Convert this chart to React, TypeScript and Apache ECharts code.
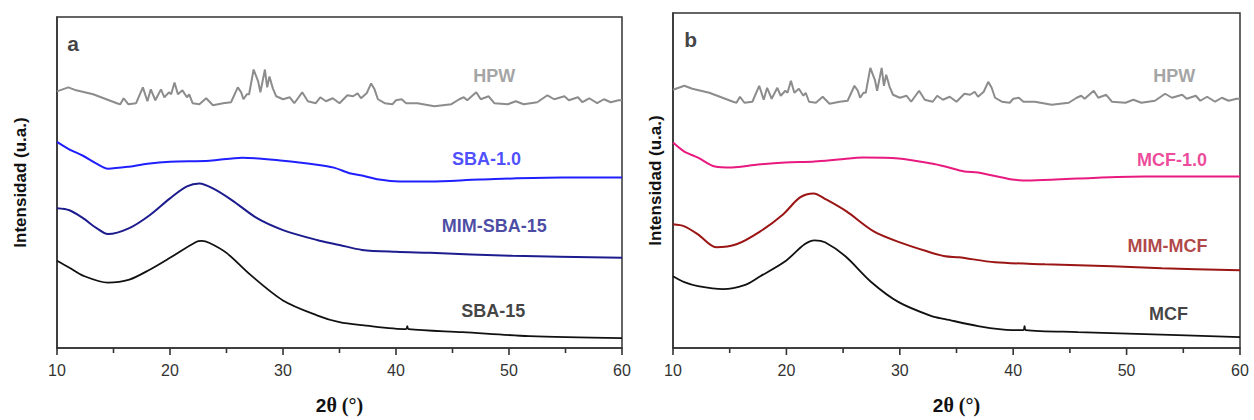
import React, { useEffect, useRef } from "react";
import * as echarts from "echarts";

// 2θ (°) vs intensity (a.u.)
const xTicks = [10, 20, 30, 40, 50, 60];
const xMinorTicks = [15, 25, 35, 45, 55];

const hpw: number[][] = [[10,259],[11,263],[11.7,260],[13.2,256],[15.3,247],[15.6,246],[15.9,252],[16.3,246],[17,247],[17.6,263],[18,249],[18.3,261],[18.7,250],[19.2,261],[19.5,253],[19.9,258],[20.1,256],[20.4,268],[20.7,256],[21.1,260],[21.5,253],[21.7,256],[22,247],[22.6,246],[23.2,252],[23.8,245],[24.7,247],[25.4,248],[26,263],[26.3,258],[26.5,251],[26.8,256],[27,256],[27.4,281],[27.8,269],[28,258],[28.4,281],[28.6,263],[28.8,274],[29.1,262],[29.4,254],[30,251],[30.6,253],[31,247],[31.7,258],[32.2,249],[32.9,247],[33.3,253],[33.8,249],[34.4,252],[35,247],[35.7,255],[36.2,254],[36.6,257],[36.9,252],[37.4,257],[37.8,267],[38.1,261],[38.4,251],[39,247],[39.7,246],[40,250],[40.5,251],[40.9,247],[41.9,247],[43.4,244],[44.9,246],[45.6,251],[46,253],[46.3,250],[47.1,258],[47.5,251],[48.2,254],[48.7,247],[49.9,246],[50.6,249],[51.3,246],[52.5,248],[53.4,255],[54,251],[54.9,254],[55.3,250],[56.1,253],[56.5,248],[57.1,252],[57.8,247],[58.4,251],[59,248],[59.7,250],[60,250]];

const sba10: number[][] = [[10,208],[11,201],[12.3,194],[13.5,186],[14.5,181],[16.4,183],[18,186],[20,188],[23.5,189],[26.4,192],[30,189],[33,185],[34.5,182],[36,176],[37,174],[38.5,170],[40.3,168],[43,168],[47.4,170],[54.7,172],[60,172]];

const mimSba15: number[][] = [[10,141],[11.1,139],[12.3,131],[13.5,121],[14.5,115],[16.4,121],[18.2,134],[20,151],[21.5,163],[22.6,166],[23.8,161],[25.5,149],[27.7,131],[30,119],[33,109],[35,104],[37,99],[40,97],[43,96],[50.3,93],[60,91]];

const sba15: number[][] = [[10,88],[11.1,81],[12.3,73],[14.5,66],[16.4,69],[18.2,79],[20,91],[22.3,107],[22.8,108],[23.5,106],[25,96],[27.1,74],[30,48],[33,33],[35,26],[37,23],[40.9,19],[41,22],[41.1,19],[45.9,16],[51.8,12],[60,10]];

const mcf10: number[][] = [[10,206],[11,197],[12.2,191],[13.7,182],[15.2,181],[17.5,184],[19.9,186],[22.5,187],[24.6,189],[26.8,191],[29.9,190],[32.8,185],[34,182],[35.7,177],[36.9,176],[39.9,169],[41.6,168],[45.7,170],[51.6,172],[60,172]];

const mimMcf: number[][] = [[10,124],[11,122],[12.2,114],[13.8,101],[15.6,104],[17.7,117],[19.7,134],[21.2,151],[22.4,155],[23.5,149],[25.3,137],[27.7,117],[30,106],[32.4,97],[34,92],[35.2,91],[38.4,86],[42.8,84],[48.7,82],[53.1,80],[60,78]];

const mcf: number[][] = [[10,72],[11,66],[12.2,62],[14.4,59],[16.3,63],[17.7,72],[19.9,87],[21.6,104],[22.5,108],[23.4,106],[25.2,92],[27.5,66],[29.9,46],[32.8,32],[34,29],[36.9,22],[39.9,18],[40.9,18],[41,22],[41.1,18],[45.7,16],[51.6,14],[60,11]];

// annotation texts and their anchor in data coordinates
const labelsA = ["a", "HPW", "SBA-1.0", "MIM-SBA-15", "SBA-15"];
const anchorsA: number[][] = [[10.9, 307], [48.7, 274], [48.0, 191], [48.7, 123], [48.6, 37]];
const labelsB = ["b", "HPW", "MCF-1.0", "MIM-MCF", "MCF"];
const anchorsB: number[][] = [[11.0, 309], [54.2, 273], [54.0, 189], [53.6, 102], [53.7, 34]];

const C = {
  hpw: "#8c8c8c",
  blue: "#1f1fff",
  navy: "#1c1c8e",
  black: "#111111",
  pink: "#e8197f",
  red: "#9b1515",
  axis: "#333333",
};

const SANS = "'Liberation Sans', Arial, sans-serif";

function xAxis(gridIndex: number) {
  return {
    type: "value",
    gridIndex,
    min: 10,
    max: 60,
    interval: 10,
    position: "bottom",
    name: "{a|2}{b|θ (°)}",
    nameLocation: "middle",
    nameGap: 47,
    nameTextStyle: {
      rich: {
        a: { fontFamily: SANS, fontWeight: "bold", fontSize: 19, color: "#111" },
        b: { fontFamily: "'Liberation Serif', serif", fontWeight: "bold", fontSize: 20, color: "#111" },
      },
    },
    axisLine: { show: true, onZero: false, lineStyle: { color: C.axis, width: 1.5 } },
    axisTick: { show: false },
    minorTick: { show: false },
    axisLabel: { show: false },
    splitLine: { show: false },
  };
}

function yAxis(gridIndex: number, max: number, gap: number) {
  return {
    type: "value",
    gridIndex,
    min: 0,
    max,
    name: "Intensidad (u.a.)",
    nameLocation: "middle",
    nameGap: gap,
    nameTextStyle: { fontFamily: SANS, fontWeight: "bold", fontSize: 17, color: "#111" },
    axisLine: { show: true, lineStyle: { color: C.axis, width: 1.5 } },
    axisTick: { show: false },
    axisLabel: { show: false },
    splitLine: { show: false },
  };
}

function line(name: string, data: number[][], color: string, idx: number, width: number, smooth: number | boolean) {
  return {
    type: "line",
    name,
    data,
    xAxisIndex: idx,
    yAxisIndex: idx,
    showSymbol: false,
    symbol: "none",
    smooth,
    lineStyle: { color, width },
    silent: true,
  };
}

// x ticks (and their labels) drawn through the axis scale, outward below the axis line
function ticks(idx: number, values: number[], len: number, withLabel: boolean) {
  return {
    type: "custom",
    xAxisIndex: idx,
    yAxisIndex: idx,
    silent: true,
    clip: false,
    z: 10,
    data: values.map((v) => [v, 0]),
    renderItem: (_p: any, api: any) => {
      const v = api.value(0);
      const pt = api.coord([v, api.value(1)]);
      const children: any[] = [
        {
          type: "line",
          shape: { x1: pt[0], y1: pt[1], x2: pt[0], y2: pt[1] + len },
          style: { stroke: C.axis, lineWidth: 1.6 },
        },
      ];
      if (withLabel) {
        children.push({
          type: "text",
          x: pt[0],
          y: pt[1] + 22,
          style: {
            text: String(v),
            fill: "#333",
            fontSize: 16,
            fontFamily: SANS,
            align: "center",
            verticalAlign: "middle",
          },
        });
      }
      return { type: "group", children };
    },
  };
}

function annotations(idx: number, labels: string[], anchors: number[][], colors: string[]) {
  return {
    type: "scatter",
    xAxisIndex: idx,
    yAxisIndex: idx,
    symbolSize: 1,
    itemStyle: { color: "rgba(0,0,0,0)" },
    silent: true,
    data: labels.map((t, i) => ({
      name: t,
      value: anchors[i],
      label: {
        show: true,
        position: "inside",
        formatter: t,
        align: i === 0 ? "left" : "center",
        verticalAlign: "middle",
        fontFamily: SANS,
        fontWeight: "bold",
        fontSize: i === 0 ? 21 : 18,
        color: colors[i],
      },
    })),
  };
}

export default function App() {
  const ref = useRef<HTMLDivElement>(null);
  useEffect(() => {
    document.body.style.margin = "0";
    const chart = echarts.init(ref.current!, undefined, { renderer: "svg" });
    chart.setOption({
      animation: false,
      backgroundColor: "#ffffff",
      grid: [
        { left: 57, top: 17, width: 565, height: 334, show: true, borderColor: C.axis, borderWidth: 1.5, backgroundColor: "transparent" },
        { left: 673, top: 13, width: 567, height: 336, show: true, borderColor: C.axis, borderWidth: 1.5, backgroundColor: "transparent" },
      ],
      xAxis: [xAxis(0), xAxis(1)],
      yAxis: [yAxis(0, 334, 28), yAxis(1, 336, 9)],
      series: [
        line("HPW a", hpw, C.hpw, 0, 2, false),
        line("SBA-1.0", sba10, C.blue, 0, 2, 0.3),
        line("MIM-SBA-15", mimSba15, C.navy, 0, 2, 0.3),
        line("SBA-15", sba15, C.black, 0, 1.8, 0.3),
        line("HPW b", hpw, C.hpw, 1, 2, false),
        line("MCF-1.0", mcf10, C.pink, 1, 2, 0.3),
        line("MIM-MCF", mimMcf, C.red, 1, 2, 0.3),
        line("MCF", mcf, C.black, 1, 1.8, 0.3),
        ticks(0, xTicks, 7, true),
        ticks(0, xMinorTicks, 5, false),
        ticks(1, xTicks, 7, true),
        ticks(1, xMinorTicks, 5, false),
        annotations(0, labelsA, anchorsA, ["#111", C.hpw, C.blue, C.navy, "#111"]),
        annotations(1, labelsB, anchorsB, ["#111", C.hpw, C.pink, C.red, "#111"]),
      ],
    });
    return () => chart.dispose();
  }, []);
  return <div ref={ref} style={{ width: 1254, height: 420 }} />;
}
